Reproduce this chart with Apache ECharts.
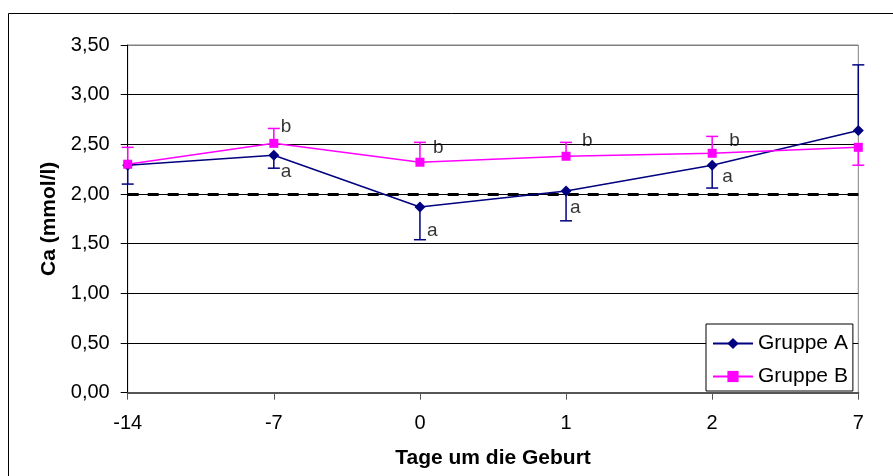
<!DOCTYPE html>
<html><head><meta charset="utf-8">
<script src="https://cdn.jsdelivr.net/npm/echarts@6/dist/echarts.min.js"></script>
<style>html,body{margin:0;padding:0;background:#fff}#c{width:893px;height:476px}</style>
</head><body><div id="c"></div>
<script>
const categories = ['-14', '-7', '0', '1', '2', '7'];
const groupA = [2.29, 2.39, 1.87, 2.03, 2.29, 2.64];
const groupB = [2.30, 2.51, 2.32, 2.38, 2.41, 2.47];
const errEndA = [2.10, 2.26, 1.54, 1.73, 2.06, 3.30];
const errEndB = [2.47, 2.66, 2.52, 2.52, 2.58, 2.29];
const letterCatsA = [1, 2, 3, 4];
const letterValsA = [2.22, 1.63, 1.86, 2.17];
const letterCatsB = [1, 2, 3, 4];
const letterValsB = [2.68, 2.47, 2.54, 2.54];
const referenceLevel = 2.0;
const yTicks = { min: 0, max: 3.5, interval: 0.5 };

// style-only: horizontal label distances
const letterDxA = [7, 7, 4, 10];
const letterDxB = [7, 13, 16, 17];

const FONT = 'Liberation Sans, Arial, sans-serif';
const colA = '#000080', colB = '#FF00FF';

function errSeries(color, means, ends) {
  return {
    type: 'custom', silent: true, z: 3,
    data: ends.map((e, i) => [i, means[i], e]),
    renderItem(params, api) {
      const p0 = api.coord([api.value(0), api.value(1)]);
      const p1 = api.coord([api.value(0), api.value(2)]);
      return {
        type: 'group', children: [
          { type: 'line', shape: { x1: p0[0], y1: p0[1], x2: p1[0], y2: p1[1] }, style: { stroke: color, lineWidth: 1.5 } },
          { type: 'line', shape: { x1: p1[0] - 6, y1: p1[1], x2: p1[0] + 6, y2: p1[1] }, style: { stroke: color, lineWidth: 1.5 } }
        ]
      };
    }
  };
}
function letterSeries(cats, vals, dx, txt) {
  return {
    type: 'scatter', silent: true, symbolSize: 0, z: 6,
    data: cats.map((c, i) => ({
      value: [c, vals[i]],
      label: { show: true, position: 'right', distance: dx[i], formatter: txt,
        color: '#000', fontFamily: FONT, fontSize: 19 }
    }))
  };
}

const splitColors = [];
for (let v = yTicks.min; v <= yTicks.max + 1e-9; v += yTicks.interval) splitColors.push('#000');
splitColors[splitColors.length - 1] = '#808080';

const chart = echarts.init(document.getElementById('c'));
chart.setOption({
  animation: false,
  backgroundColor: '#fff',
  graphic: [{ type: 'rect', shape: { x: 8.5, y: 13.5, width: 1000, height: 1000 }, style: { fill: 'none', stroke: '#000', lineWidth: 1 }, silent: true, z: -1 }],
  grid: { left: 127.7, right: 34.7, top: 45, bottom: 83.3, show: true, borderColor: '#808080', borderWidth: 1, backgroundColor: 'transparent' },
  legend: {
    data: ['Gruppe A', 'Gruppe B'],
    orient: 'vertical', left: 706, top: 324,
    itemWidth: 40, itemHeight: 14, itemGap: 12,
    padding: [9, 5, 4, 6],
    backgroundColor: '#fff', borderColor: '#000', borderWidth: 1, borderRadius: 0,
    textStyle: { fontFamily: FONT, fontSize: 21, color: '#000' }
  },
  xAxis: {
    type: 'category', data: categories, boundaryGap: false,
    name: 'Tage um die Geburt', nameLocation: 'middle', nameGap: 55,
    nameTextStyle: { fontFamily: FONT, fontSize: 21, fontWeight: 'bold', color: '#000' },
    axisLine: { lineStyle: { color: '#555', width: 2 } },
    axisTick: { show: true, length: 7, alignWithLabel: true, lineStyle: { color: '#555' } },
    axisLabel: { fontFamily: FONT, fontSize: 20, color: '#000', margin: 21 },
    splitLine: { show: false }
  },
  yAxis: {
    type: 'value', min: yTicks.min, max: yTicks.max, interval: yTicks.interval,
    name: 'Ca (mmol/l)', nameLocation: 'middle', nameGap: 66,
    nameTextStyle: { fontFamily: FONT, fontSize: 21, fontWeight: 'bold', color: '#000' },
    axisLine: { show: true, lineStyle: { color: '#000', width: 1 } },
    axisTick: { show: true, length: 7, lineStyle: { color: '#000' } },
    axisLabel: { fontFamily: FONT, fontSize: 20, color: '#000', margin: 18,
      formatter: v => v.toFixed(2).replace('.', ',') },
    splitLine: { show: true, lineStyle: { color: splitColors, width: 1 } }
  },
  series: [
    errSeries(colA, groupA, errEndA),
    errSeries(colB, groupB, errEndB),
    {
      name: 'Gruppe A', type: 'line', data: groupA, z: 5,
      symbol: 'diamond', symbolSize: 11, showAllSymbol: true,
      lineStyle: { color: colA, width: 1.5 }, itemStyle: { color: colA },
      markLine: {
        silent: true, symbol: 'none', label: { show: false },
        lineStyle: { color: '#000', type: [11, 9], width: 3 },
        data: [{ yAxis: referenceLevel }], z: 4
      }
    },
    {
      name: 'Gruppe B', type: 'line', data: groupB, z: 5,
      symbol: 'rect', symbolSize: 9, showAllSymbol: true,
      lineStyle: { color: colB, width: 1.5 }, itemStyle: { color: colB }
    },
    letterSeries(letterCatsA, letterValsA, letterDxA, 'a'),
    letterSeries(letterCatsB, letterValsB, letterDxB, 'b')
  ]
});
</script></body></html>
